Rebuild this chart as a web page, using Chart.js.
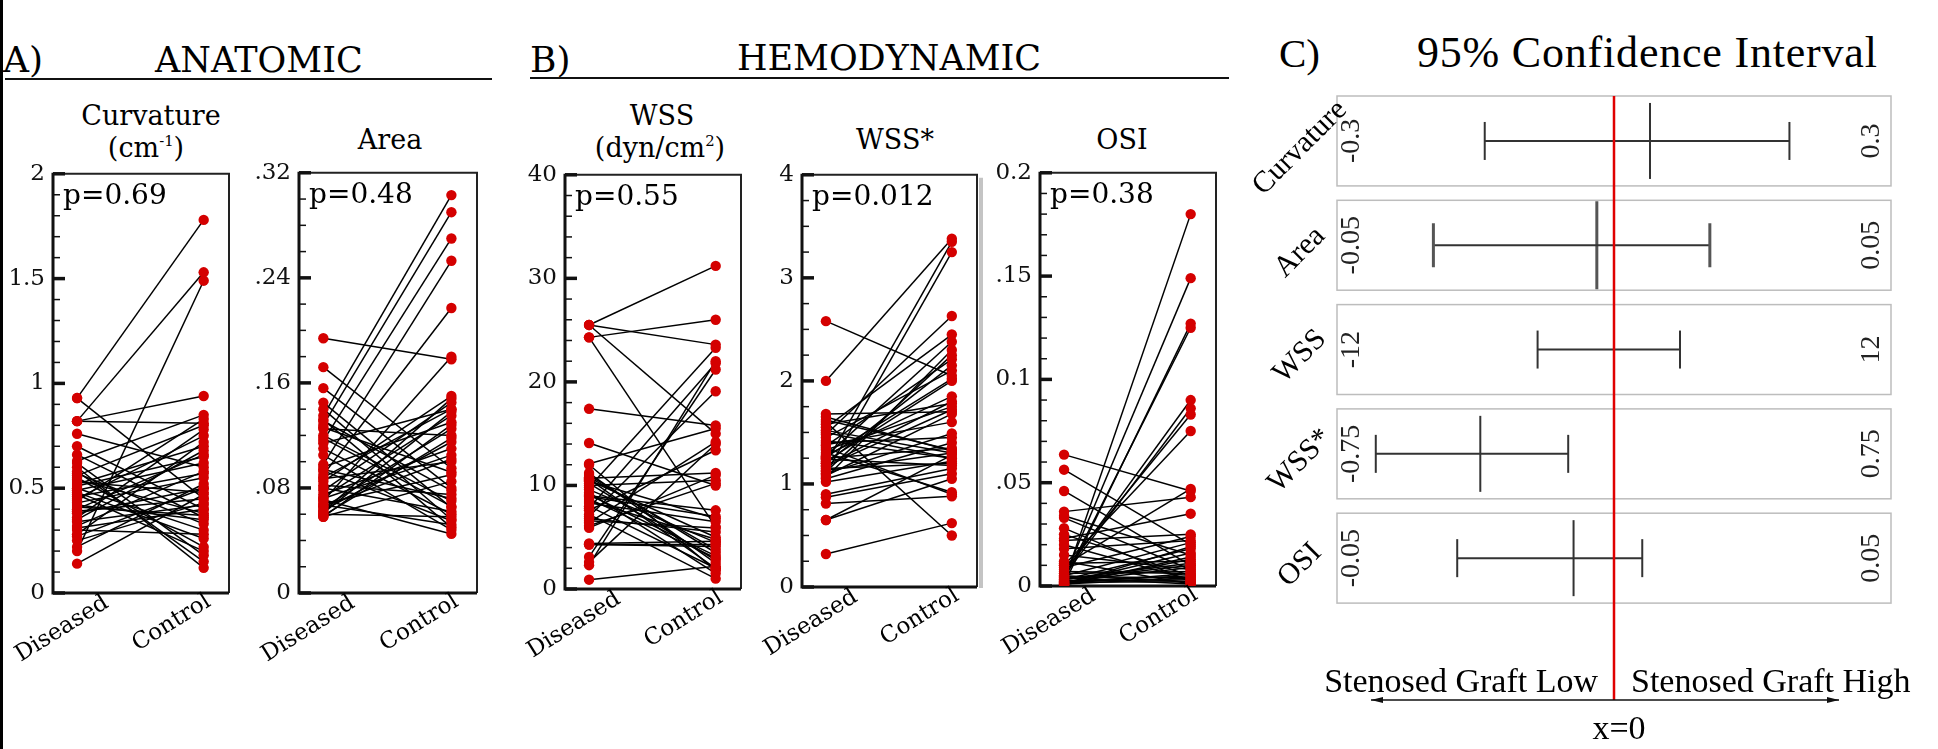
<!DOCTYPE html>
<html>
<head>
<meta charset="utf-8">
<title>Anatomic and hemodynamic comparison</title>
<script src="https://cdn.jsdelivr.net/npm/chart.js@4.4.1/dist/chart.umd.min.js"></script>
<style>
  html, body { margin: 0; padding: 0; background: #fff; }
  #page { position: relative; width: 1938px; height: 749px; overflow: hidden; background: #fff; }
  #page canvas { position: absolute; }
  .txt { position: absolute; white-space: nowrap; line-height: 1; color: #000; }
  .rule { position: absolute; height: 2px; background: #111; }
  .sup { font-size: 0.55em; position: relative; top: -0.75em; }
</style>
</head>
<body>
<div id="page"></div>
<script>
// ===================================
// Data
// ===================================

const groupLabels = ['Diseased', 'Control'];

// A) anatomic, paired per graft
const curvatureDiseased = [0.93, 0.82, 0.20, 0.93, 0.82, 0.14, 0.76, 0.70, 0.63, 0.60, 0.58, 0.56, 0.54, 0.52, 0.50, 0.49, 0.47, 0.45, 0.43, 0.42, 0.40, 0.38, 0.36, 0.34, 0.32, 0.30, 0.28, 0.25, 0.22, 0.62, 0.57, 0.53, 0.51, 0.48, 0.44, 0.41, 0.39, 0.35, 0.31, 0.27, 0.55, 0.46, 0.66, 0.82];
const curvatureControl  = [1.78, 1.53, 1.49, 0.45, 0.81, 0.47, 0.60, 0.40, 0.85, 0.12, 0.15, 0.80, 0.38, 0.70, 0.30, 0.62, 0.20, 0.75, 0.55, 0.35, 0.66, 0.50, 0.78, 0.42, 0.58, 0.28, 0.72, 0.43, 0.52, 0.18, 0.33, 0.48, 0.65, 0.26, 0.83, 0.37, 0.45, 0.68, 0.40, 0.50, 0.22, 0.57, 0.36, 0.94];

const areaDiseased = [0.194, 0.172, 0.156, 0.145, 0.135, 0.132, 0.128, 0.125, 0.120, 0.116, 0.114, 0.110, 0.098, 0.096, 0.093, 0.090, 0.087, 0.085, 0.082, 0.078, 0.075, 0.073, 0.070, 0.068, 0.065, 0.062, 0.060, 0.058, 0.058, 0.063, 0.067, 0.072, 0.080, 0.088, 0.094, 0.105, 0.118, 0.126, 0.131, 0.140, 0.061, 0.066, 0.071, 0.059];
const areaControl  = [0.178, 0.095, 0.080, 0.065, 0.303, 0.050, 0.290, 0.120, 0.070, 0.270, 0.140, 0.060, 0.253, 0.130, 0.055, 0.217, 0.100, 0.150, 0.075, 0.145, 0.110, 0.135, 0.180, 0.090, 0.125, 0.148, 0.058, 0.085, 0.128, 0.115, 0.052, 0.105, 0.062, 0.140, 0.072, 0.048, 0.066, 0.092, 0.078, 0.056, 0.138, 0.102, 0.045, 0.118];

// B) hemodynamic
const wssDiseased = [25.5, 25.5, 24.3, 24.3, 25.5, 17.4, 14.1, 2.3, 3.1, 12.1, 0.9, 4.3, 4.3, 11.0, 10.7, 10.5, 10.2, 10.0, 9.6, 9.3, 9.0, 8.7, 8.3, 8.0, 7.6, 7.2, 6.8, 6.4, 5.9, 10.8, 9.8, 8.5, 7.0, 6.1, 12.0, 11.2, 4.4, 10.4, 9.1, 7.8, 6.6, 2.6, 10.6, 8.9];
const wssControl  = [31.2, 23.6, 26.0, 6.0, 15.0, 15.8, 10.0, 22.0, 21.2, 15.5, 2.2, 4.3, 4.1, 3.5, 11.2, 5.0, 2.8, 10.5, 4.5, 1.5, 7.6, 3.0, 6.5, 2.0, 13.4, 1.0, 5.5, 14.2, 11.0, 3.8, 23.3, 4.8, 19.1, 10.2, 1.8, 2.5, 4.6, 6.8, 3.2, 21.8, 5.9, 14.0, 2.0, 7.0];

const wssStarDiseased = [2.58, 2.00, 0.32, 1.20, 1.10, 1.68, 1.60, 1.55, 1.52, 1.48, 1.42, 1.37, 1.33, 1.30, 1.27, 1.25, 1.22, 1.18, 1.15, 1.12, 1.08, 1.05, 0.87, 0.81, 0.65, 0.65, 1.65, 1.58, 1.45, 1.40, 1.35, 1.28, 1.24, 1.20, 1.17, 1.13, 1.10, 1.06, 1.50, 1.62, 0.90, 1.38, 1.26, 1.02];
const wssStarControl  = [2.05, 3.38, 0.62, 3.35, 3.25, 1.70, 0.50, 2.45, 1.30, 2.63, 1.25, 2.21, 1.75, 0.92, 2.38, 1.35, 2.00, 1.80, 1.20, 2.25, 1.68, 1.40, 1.10, 0.88, 1.05, 1.28, 1.32, 1.78, 2.10, 1.45, 0.90, 1.85, 1.18, 2.15, 1.72, 1.30, 1.49, 2.30, 1.25, 1.33, 1.15, 1.60, 2.02, 1.22];

const osiDiseased = [0.0020, 0.0040, 0.0010, 0.0030, 0.0060, 0.0050, 0.0080, 0.0100, 0.0636, 0.0563, 0.0460, 0.0360, 0.0340, 0.0250, 0.0230, 0.0200, 0.0180, 0.0150, 0.0120, 0.0110, 0.0090, 0.0070, 0.0050, 0.0030, 0.0020, 0.0010, 0.0005, 0.0040, 0.0060, 0.0015, 0.0025, 0.0035, 0.0330, 0.0280, 0.0220, 0.0010, 0.0020, 0.0008, 0.0045, 0.0012, 0.0030, 0.0050, 0.0100, 0.0018];
const osiControl  = [0.180, 0.149, 0.127, 0.125, 0.090, 0.086, 0.083, 0.075, 0.046, 0.020, 0.010, 0.043, 0.015, 0.005, 0.035, 0.003, 0.022, 0.008, 0.001, 0.012, 0.024, 0.006, 0.002, 0.018, 0.009, 0.004, 0.014, 0.001, 0.007, 0.016, 0.003, 0.011, 0.008, 0.002, 0.025, 0.013, 0.005, 0.019, 0.004, 0.006, 0.010, 0.021, 0.047, 0.002];

// y tick labels (evenly spaced from 0 to max)
const curvatureTicks = ['0', '0.5', '1', '1.5', '2'];
const areaTicks = ['0', '.08', '.16', '.24', '.32'];
const wssTicks = ['0', '10', '20', '30', '40'];
const wssStarTicks = ['0', '1', '2', '3', '4'];
const osiTicks = ['0', '.05', '0.1', '.15', '0.2'];

const pValues = ['p=0.69', 'p=0.48', 'p=0.55', 'p=0.012', 'p=0.38'];

// C) 95% confidence interval of the difference
const ciNames = ['Curvature', 'Area', 'WSS', 'WSS*', 'OSI'];
const ciLower = [-0.14, -0.0326, -3.31, -0.645, -0.0283];
const ciMean  = [0.039, -0.0031, 0.0, -0.362, -0.0073];
const ciUpper = [0.19, 0.0173, 2.86, -0.124, 0.0051];
const ciRange = [0.3, 0.05, 12, 0.75, 0.05];

// ===================================
// Helpers
// ===================================

const SERIF = "'DejaVu Serif'";
const TIMES = "'Liberation Serif'";
const RED = '#d40000';
const page = document.getElementById('page');

Chart.defaults.font.family = SERIF;
Chart.defaults.color = '#000';

function addText(html, x, baseline, size, family, center, extraStyle) {
    const el = document.createElement('div');
    el.className = 'txt';
    const asc = family === SERIF ? 0.846 : 0.8375;
    el.style.fontFamily = family;
    el.style.fontSize = size + 'px';
    el.style.left = x + 'px';
    el.style.top = (baseline - asc * size) + 'px';
    if (center) el.style.transform = 'translateX(-50%)';
    if (extraStyle) Object.assign(el.style, extraStyle);
    el.innerHTML = html;
    page.appendChild(el);
}

function addRule(x1, x2, y) {
    const el = document.createElement('div');
    el.className = 'rule';
    el.style.left = x1 + 'px';
    el.style.width = (x2 - x1) + 'px';
    el.style.top = y + 'px';
    page.appendChild(el);
}

function addCanvas(left, top, width, height) {
    const canvas = document.createElement('canvas');
    canvas.width = width;
    canvas.height = height;
    canvas.style.left = left + 'px';
    canvas.style.top = top + 'px';
    canvas.style.width = width + 'px';
    canvas.style.height = height + 'px';
    page.appendChild(canvas);
    return canvas;
}

// ===================================
// Paired Diseased / Control plots
// ===================================

const pairedDecor = {
    id: 'pairedDecor',
    beforeDatasetsDraw(chart, args, opts) {
        const { ctx, chartArea: a, scales: { y } } = chart;
        ctx.save();
        if (opts.grayEdge) {
            ctx.strokeStyle = '#c4c4c4';
            ctx.lineWidth = 4;
            ctx.beginPath();
            ctx.moveTo(a.right + 4, a.top + 3);
            ctx.lineTo(a.right + 4, a.bottom + 1);
            ctx.stroke();
        }
        ctx.strokeStyle = '#222';
        ctx.lineWidth = 2;
        ctx.beginPath();
        ctx.moveTo(a.left, a.top);
        ctx.lineTo(a.right, a.top);
        ctx.lineTo(a.right, a.bottom);
        ctx.stroke();

        ctx.strokeStyle = '#111';
        ctx.lineWidth = 3;
        ctx.beginPath();
        ctx.moveTo(a.left, a.top - 1);
        ctx.lineTo(a.left, a.bottom);
        ctx.lineTo(a.right, a.bottom);
        ctx.stroke();

        // inward major / minor ticks
        const n = Math.round(y.max / opts.minorStep);
        for (let i = 0; i <= n; i++) {
            const v = i * opts.minorStep;
            const r = v / opts.majorStep;
            const major = Math.abs(r - Math.round(r)) < 1e-6;
            const py = y.getPixelForValue(v);
            ctx.lineWidth = major ? 3.5 : 1.5;
            ctx.beginPath();
            ctx.moveTo(a.left, py);
            ctx.lineTo(a.left + (major ? 12 : 7), py);
            ctx.stroke();
        }
        ctx.restore();
    },
    afterDraw(chart, args, opts) {
        const { ctx, chartArea: a, scales: { x } } = chart;
        ctx.save();
        ctx.fillStyle = '#000';
        ctx.font = '28px ' + SERIF;
        ctx.textAlign = 'left';
        ctx.textBaseline = 'alphabetic';
        ctx.fillText(opts.pText, a.left + 10, a.top + 30);

        ctx.font = '23px ' + SERIF;
        ctx.textAlign = 'center';
        ctx.textBaseline = 'middle';
        const shifts = [[-15, 36], [-32, 30]];
        groupLabels.forEach((label, i) => {
            ctx.save();
            ctx.translate(x.getPixelForValue(i) + shifts[i][0], a.bottom + shifts[i][1]);
            ctx.rotate(-32 * Math.PI / 180);
            ctx.fillText(label, 0, 0);
            ctx.restore();
        });
        ctx.restore();
    }
};

function makePairedChart(box, diseased, control, yMax, tickLabels, minorStep, pText, grayEdge) {
    const padL = 70, padT = 20, padR = 15, padB = 95;
    const canvas = addCanvas(box.left - padL, box.top - padT,
        box.right - box.left + padL + padR, box.bottom - box.top + padT + padB);
    const majorStep = yMax / (tickLabels.length - 1);

    const datasets = [
        {
            label: groupLabels[0],
            data: diseased.map(v => ({ x: 0, y: v })),
            pointRadius: 5.2, pointBackgroundColor: RED, pointBorderWidth: 0, order: 0
        },
        {
            label: groupLabels[1],
            data: control.map(v => ({ x: 1, y: v })),
            pointRadius: 5.2, pointBackgroundColor: RED, pointBorderWidth: 0, order: 0
        }
    ];
    diseased.forEach((d, i) => {
        datasets.push({
            label: 'pair ' + (i + 1),
            data: [{ x: 0, y: d }, { x: 1, y: control[i] }],
            showLine: true, borderColor: '#000', borderWidth: 1.5,
            pointRadius: 0, order: 1
        });
    });

    return new Chart(canvas.getContext('2d'), {
        type: 'scatter',
        data: { datasets },
        options: {
            responsive: false,
            animation: false,
            devicePixelRatio: 1,
            layout: { padding: { left: 0, top: padT, right: padR, bottom: padB } },
            plugins: {
                legend: { display: false },
                tooltip: { enabled: false },
                pairedDecor: { pText, minorStep, majorStep, grayEdge }
            },
            scales: {
                x: { type: 'linear', min: -0.19, max: 1.2, display: false },
                y: {
                    type: 'linear', min: 0, max: yMax,
                    grid: { display: false, drawTicks: false },
                    border: { display: false },
                    afterFit: scale => { scale.width = padL; },
                    afterBuildTicks: scale => {
                        scale.ticks = tickLabels.map((t, i) => ({ value: i * majorStep }));
                    },
                    ticks: {
                        autoSkip: false,
                        padding: 8,
                        color: '#111',
                        font: { size: 23, family: SERIF },
                        callback: (value, index) => tickLabels[index]
                    }
                }
            }
        },
        plugins: [pairedDecor]
    });
}

// ===================================
// 95% confidence interval panel
// ===================================

const ciDecor = {
    id: 'ciDecor',
    beforeDatasetsDraw(chart) {
        const { ctx, chartArea: a, scales } = chart;
        const y = scales.y;
        ctx.save();
        ctx.strokeStyle = '#bdbdbd';
        ctx.lineWidth = 1.5;
        ciNames.forEach((name, k) => {
            const top = y.getPixelForValue(k - 0.431);
            const bottom = y.getPixelForValue(k + 0.431);
            ctx.strokeRect(a.left, top, a.right - a.left, bottom - top);
        });

        // range labels inside each row
        ctx.fillStyle = '#222';
        ctx.font = '28px ' + TIMES;
        ctx.textAlign = 'center';
        ctx.textBaseline = 'middle';
        ciRange.forEach((r, k) => {
            const cy = y.getPixelForValue(k);
            [[a.left + 15, '-' + r], [a.right - 19, String(r)]].forEach(([px, label]) => {
                ctx.save();
                ctx.translate(px, cy);
                ctx.rotate(-Math.PI / 2);
                ctx.fillText(label, 0, 0);
                ctx.restore();
            });
        });

        // row names
        ctx.fillStyle = '#000';
        ctx.font = '30px ' + TIMES;
        ciNames.forEach((name, k) => {
            ctx.save();
            ctx.translate(100, y.getPixelForValue(k) + 7);
            ctx.rotate(-Math.PI / 4);
            ctx.fillText(name, 0, 0);
            ctx.restore();
        });
        ctx.restore();
    },
    afterDatasetsDraw(chart) {
        const { ctx, chartArea: a, scales } = chart;
        const zeroX = scales.x0.getPixelForValue(0);
        ctx.save();
        // zero line
        ctx.strokeStyle = '#e00000';
        ctx.lineWidth = 2.5;
        ctx.beginPath();
        ctx.moveTo(zeroX, a.top);
        ctx.lineTo(zeroX, a.bottom);
        ctx.stroke();

        // double arrow
        const ax1 = a.left + 34, ax2 = a.right - 52, ay = a.bottom;
        ctx.strokeStyle = '#111';
        ctx.fillStyle = '#111';
        ctx.lineWidth = 1.5;
        ctx.beginPath();
        ctx.moveTo(ax1, ay);
        ctx.lineTo(ax2, ay);
        ctx.stroke();
        [[ax1, 1], [ax2, -1]].forEach(([px, dir]) => {
            ctx.beginPath();
            ctx.moveTo(px, ay);
            ctx.lineTo(px + dir * 12, ay - 3);
            ctx.lineTo(px + dir * 12, ay + 3);
            ctx.closePath();
            ctx.fill();
        });

        ctx.fillStyle = '#000';
        ctx.font = '34px ' + TIMES;
        ctx.textBaseline = 'alphabetic';
        ctx.textAlign = 'right';
        ctx.fillText('Stenosed Graft Low', zeroX - 16, a.bottom - 8);
        ctx.textAlign = 'left';
        ctx.fillText('Stenosed Graft High', zeroX + 17, a.bottom - 8);
        ctx.textAlign = 'center';
        ctx.fillText('x=0', zeroX + 5, a.bottom + 39);
        ctx.restore();
    }
};

function makeCiChart() {
    const left = 1200, width = 738, height = 749;
    const canvas = addCanvas(left, 0, width, height);
    const scales = {
        y: { type: 'linear', min: -0.431, max: 5.360, reverse: true, display: false }
    };
    const datasets = [];
    ciNames.forEach((name, k) => {
        scales['x' + k] = { type: 'linear', axis: 'x', position: 'bottom', min: -ciRange[k], max: ciRange[k], display: false };
        datasets.push({
            label: name + ' interval',
            xAxisID: 'x' + k,
            data: [{ x: ciLower[k], y: k }, { x: ciUpper[k], y: k }],
            showLine: true, borderColor: '#333', borderWidth: 2,
            pointStyle: 'line', pointRotation: 90,
            pointRadius: k === 1 ? 22 : 19,
            pointBorderColor: k === 1 ? '#555' : '#333', pointBorderWidth: k === 1 ? 3 : 2
        });
        datasets.push({
            label: name + ' mean',
            xAxisID: 'x' + k,
            data: [{ x: ciMean[k], y: k }],
            pointStyle: 'line', pointRotation: 90,
            pointRadius: k === 1 ? 44 : 38,
            pointBorderColor: k === 1 ? '#555' : '#333', pointBorderWidth: k === 1 ? 3 : 2
        });
    });

    return new Chart(canvas.getContext('2d'), {
        type: 'scatter',
        data: { datasets },
        options: {
            responsive: false,
            animation: false,
            devicePixelRatio: 1,
            clip: false,
            layout: { padding: { left: 137, right: 2, top: 96, bottom: 49 } },
            plugins: { legend: { display: false }, tooltip: { enabled: false } },
            scales
        },
        plugins: [ciDecor]
    });
}

// ===================================
// Page
// ===================================

// left image border
const edge = document.createElement('div');
Object.assign(edge.style, { position: 'absolute', left: '0px', top: '0px', width: '3px', height: '749px', background: '#000' });
page.appendChild(edge);

// panel headings
addText('A)', 3, 72, 36, SERIF);
addText('ANATOMIC', 155, 73, 35, SERIF);
addRule(5, 492, 78);
addText('B)', 530, 72, 36, SERIF);
addText('HEMODYNAMIC', 737, 71, 35, SERIF);
addRule(530, 1229, 77);
addText('C)', 1279, 67, 41, TIMES);
addText('95% Confidence Interval', 1417, 68, 44, TIMES, false, { letterSpacing: '0.8px' });

// plot titles
addText('Curvature', 151, 125, 27, SERIF, true);
addText('(cm<span class="sup">-1</span>)', 146, 157, 27, SERIF, true);
addText('Area', 390, 149, 27, SERIF, true);
addText('WSS', 662, 125, 27, SERIF, true);
addText('(dyn/cm<span class="sup">2</span>)', 660, 157, 27, SERIF, true);
addText('WSS*', 895, 149, 27, SERIF, true);
addText('OSI', 1122, 149, 27, SERIF, true);

makePairedChart({ left: 53, top: 172, right: 229, bottom: 593 }, curvatureDiseased, curvatureControl, 2, curvatureTicks, 0.1, pValues[0], false);
makePairedChart({ left: 299, top: 171, right: 477, bottom: 593 }, areaDiseased, areaControl, 0.32, areaTicks, 0.02, pValues[1], false);
makePairedChart({ left: 565, top: 173, right: 741, bottom: 589 }, wssDiseased, wssControl, 40, wssTicks, 2, pValues[2], false);
makePairedChart({ left: 802, top: 173, right: 977, bottom: 587 }, wssStarDiseased, wssStarControl, 4, wssStarTicks, 0.25, pValues[3], true);
makePairedChart({ left: 1040, top: 171, right: 1216, bottom: 586 }, osiDiseased, osiControl, 0.2, osiTicks, 0.01, pValues[4], false);

makeCiChart();
</script>
</body>
</html>
